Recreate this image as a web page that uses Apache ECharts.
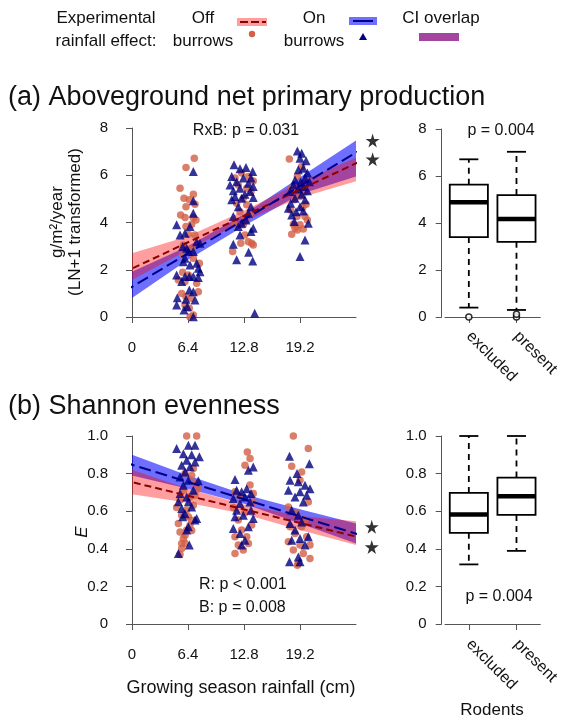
<!DOCTYPE html>
<html>
<head>
<meta charset="utf-8">
<script src="https://cdn.jsdelivr.net/npm/echarts@6/dist/echarts.min.js"></script>
<style>
  html, body { margin: 0; padding: 0; background: #fff; }
  #main { width: 562px; height: 727px; }
</style>
</head>
<body>
<div id="main"></div>
<script>
// rainfall ticks (cm) and rodent categories
const rainTicks = [0, 6.4, 12.8, 19.2]
const rodentCats = ['excluded', 'present']

// (a) ANPP points, off / on burrows  [rainfall, value]
const offA = [[7.12,6.72],[6.17,6.33],[5.49,5.45],[7.01,5.20],[5.94,5.03],[6.55,4.96],[6.17,4.67],[7.20,4.77],[5.56,4.32],[6.06,4.21],[7.01,4.21],[7.31,4.11],[6.82,3.93],[6.17,3.83],[6.44,3.50],[7.20,3.47],[5.87,3.05],[6.82,2.91],[5.79,2.63],[7.01,2.49],[7.70,2.27],[5.79,1.89],[6.44,1.78],[5.30,1.57],[6.06,1.50],[7.39,1.43],[7.58,1.07],[5.68,1.00],[6.17,0.86],[6.74,0.79],[6.06,0.51],[6.55,0.37],[7.01,0.08],[6.63,0.00],
  [11.50,2.77],[12.43,3.12],[13.30,3.19],[13.86,3.05],[13.68,3.12],[12.91,3.47],[11.77,3.90],[12.91,4.15],[13.49,4.39],[12.34,4.46],[13.11,4.75],[11.96,4.82],[12.72,5.03],[13.60,5.31],[12.15,5.59],[13.11,5.45],[11.77,5.88],[12.53,6.09],[13.30,5.95],[13.86,5.76],[12.72,3.90],
  [17.98,6.69],[19.39,6.37],[18.90,5.95],[18.25,5.45],[19.77,5.31],[19.20,5.10],[18.55,4.96],[19.89,4.77],[18.13,4.53],[19.51,4.63],[18.86,4.25],[19.77,4.25],[20.04,4.11],[18.44,3.93],[19.20,3.90],[18.90,3.68],[19.58,3.73],[18.25,3.50],[18.63,3.76]]
const onA = [[7.01,6.16],[7.01,4.92],[7.01,4.39],[5.10,3.90],[6.63,3.83],[6.06,3.55],[5.49,3.47],[7.39,3.19],[7.77,3.12],[5.79,2.98],[6.25,2.91],[6.44,2.77],[7.01,2.77],[6.06,2.49],[5.87,2.34],[7.39,2.27],[6.63,2.20],[7.58,2.06],[7.77,1.92],[5.10,1.78],[6.06,1.71],[6.55,1.71],[7.01,1.71],[7.58,1.67],[5.68,1.50],[6.55,1.14],[7.01,1.07],[5.18,0.82],[6.17,0.75],[7.20,0.72],[5.10,0.51],[6.32,0.44],[5.94,0.30],[7.01,0.01],
  [11.66,6.44],[13.03,6.33],[13.79,6.16],[12.34,6.27],[11.39,5.95],[12.72,5.88],[13.60,5.88],[11.96,5.73],[13.30,5.66],[11.20,5.59],[13.86,5.52],[12.34,5.45],[11.58,5.34],[13.49,5.31],[12.91,5.20],[13.86,5.06],[11.77,5.10],[11.39,4.96],[12.53,5.03],[12.15,4.67],[13.60,4.67],[13.30,4.39],[11.58,4.25],[13.03,4.11],[12.53,3.97],[12.15,3.83],[13.86,3.76],[12.34,3.47],[11.58,3.08],[13.60,3.62],[13.33,2.74],[11.96,2.42],[13.79,2.37],[14.02,0.16],
  [18.90,7.03],[19.39,6.93],[19.89,6.61],[19.20,6.72],[19.58,6.30],[19.01,6.23],[20.04,6.09],[19.77,5.88],[18.63,5.80],[19.28,5.71],[20.27,5.73],[18.44,5.59],[19.58,5.52],[19.01,5.42],[20.04,5.34],[18.06,5.31],[19.39,5.20],[18.63,5.03],[19.77,4.96],[18.13,4.82],[19.20,4.67],[17.87,4.60],[18.74,4.46],[18.25,4.32],[19.58,4.49],[20.15,3.97],[18.55,4.04],[19.77,3.26],[19.20,2.56]]

// (b) evenness points
const offB = [[6.25,1.00],[7.39,1.00],[7.01,0.827],[6.06,0.80],[6.82,0.79],[7.20,0.747],[7.58,0.72],[5.87,0.712],[6.63,0.677],[7.20,0.685],[5.49,0.659],[7.01,0.632],[5.10,0.62],[6.25,0.606],[5.68,0.578],[6.44,0.57],[6.82,0.552],[5.30,0.535],[6.63,0.525],[6.25,0.50],[6.82,0.498],[5.49,0.49],[6.06,0.472],[5.87,0.455],[5.68,0.428],[6.06,0.429],[5.68,0.401],[5.49,0.37],
  [13.18,0.915],[13.49,0.88],[12.91,0.845],[13.49,0.739],[11.77,0.703],[13.86,0.694],[12.34,0.677],[13.86,0.649],[11.58,0.62],[12.91,0.592],[12.15,0.553],[13.68,0.526],[12.53,0.50],[11.77,0.464],[13.11,0.464],[13.30,0.428],[12.15,0.42],[12.72,0.393],[11.77,0.375],
  [18.44,1.00],[20.15,0.933],[18.25,0.839],[19.39,0.809],[19.20,0.765],[17.87,0.623],[20.15,0.649],[18.82,0.592],[19.77,0.553],[18.06,0.517],[19.39,0.517],[18.63,0.481],[19.96,0.464],[17.87,0.437],[19.20,0.42],[20.34,0.42],[18.44,0.393],[19.58,0.375],[20.34,0.348],[18.90,0.313],[19.01,0.322]]
const onB = [[5.10,0.933],[6.44,0.951],[7.20,0.951],[5.87,0.906],[6.82,0.90],[7.70,0.89],[6.25,0.871],[7.20,0.862],[5.68,0.845],[6.63,0.836],[6.06,0.809],[5.49,0.782],[6.44,0.765],[7.58,0.762],[5.87,0.738],[7.01,0.712],[5.49,0.694],[6.25,0.676],[5.30,0.65],[6.44,0.65],[6.82,0.623],[5.68,0.614],[6.06,0.587],[5.79,0.57],[7.39,0.561],[7.20,0.553],[6.44,0.517],[6.25,0.50],[6.55,0.42],[5.30,0.375],
  [11.77,0.768],[13.86,0.835],[13.30,0.818],[13.11,0.72],[11.96,0.712],[12.53,0.703],[13.60,0.694],[11.58,0.667],[12.91,0.676],[12.34,0.641],[13.49,0.649],[11.96,0.605],[13.60,0.605],[11.77,0.57],[12.72,0.579],[13.86,0.561],[11.58,0.508],[13.30,0.517],[12.34,0.481],[12.91,0.446],[12.53,0.42],
  [18.00,0.892],[20.27,0.853],[18.86,0.80],[18.06,0.765],[19.01,0.756],[19.77,0.738],[20.34,0.72],[17.87,0.712],[19.20,0.703],[18.63,0.676],[19.96,0.685],[19.58,0.649],[18.25,0.605],[19.01,0.579],[18.06,0.534],[19.39,0.543],[18.63,0.50],[20.15,0.464],[19.20,0.455],[18.25,0.446],[19.77,0.42],[19.01,0.357],[18.00,0.331],[19.20,0.331]]

// fitted lines (ends) and confidence bands
const lineX = [-1.02, 26.6]
const offLineA = [1.87, 6.68]
const onLineA = [1.05, 7.18]
const offLineB = [0.766, 0.454]
const onLineB = [0.862, 0.466]

const bandX = [0, 6.4, 12.8, 19.2, 25.6]
const offLoA = [1.57, 2.85, 4.05, 5.05, 5.75]
const offHiA = [2.70, 3.42, 4.50, 5.70, 6.75]
const onLoA = [0.80, 2.42, 3.85, 5.20, 5.95]
const onHiA = [1.92, 3.00, 4.35, 5.92, 7.47]
const offLoB = [0.69, 0.645, 0.585, 0.50, 0.42]
const offHiB = [0.82, 0.72, 0.635, 0.575, 0.547]
const onLoB = [0.79, 0.72, 0.64, 0.535, 0.428]
const onHiB = [0.90, 0.79, 0.69, 0.61, 0.535]

// boxplots: min, Q1, median, Q3, max
const anppBox = [[0.40, 3.40, 4.88, 5.63, 6.71], [0.30, 3.20, 4.17, 5.19, 7.03]]
const anppOut = [[1, 0.00], [2, 0.00], [2, 0.12]]
const evenBox = [[0.317, 0.485, 0.582, 0.697, 1.00], [0.389, 0.580, 0.680, 0.779, 1.00]]

// significance stars
const starsA = [[27.5, 7.47], [27.5, 6.68]]
const starsB = [[27.4, 0.517], [27.4, 0.41]]

const FONT = '"Liberation Sans", Arial, sans-serif'
const RED = '#d35f45'
const NAVY = '#000080'
const RED_CI = 'rgba(255,0,0,0.38)'
const BLUE_CI = 'rgba(0,0,255,0.57)'
const STAR = 'path://M50,0 L61,35 L98,35 L68,57 L79,91 L50,70 L21,91 L32,57 L2,35 L39,35 Z'

let chart = echarts.init(document.getElementById('main'))

function axisX(grid, offset, min, max, ticks, fmt, rotate) {
  return {
    type: 'value', gridIndex: grid, min: min, max: max, offset: offset,
    axisLine: { show: true, lineStyle: { color: '#555', width: 1 } },
    axisTick: { show: true, length: 6, customValues: ticks, lineStyle: { color: '#555' } },
    axisLabel: {
      customValues: ticks, formatter: fmt, color: '#111', fontSize: rotate ? 16 : 15, fontFamily: FONT,
      margin: rotate ? 10 : 15, rotate: rotate || 0
    },
    splitLine: { show: false }
  }
}
function axisY(grid, offset, max, step, fmt) {
  return {
    type: 'value', gridIndex: grid, min: 0, max: max, interval: step, offset: offset,
    axisLine: { show: true, lineStyle: { color: '#555', width: 1 } },
    axisTick: { show: true, length: 6, lineStyle: { color: '#555' } },
    axisLabel: { color: '#111', fontSize: 15, fontFamily: FONT, margin: 15, formatter: fmt },
    splitLine: { show: false }
  }
}
const fmtE = v => (v === 0 ? '0' : v.toFixed(1))

// band polygon through the axis scales
function band(lo, hi, color) {
  return function (params, api) {
    let pts = []
    for (let i = 0; i < bandX.length; i++) pts.push(api.coord([bandX[i], hi[i]]))
    for (let i = bandX.length - 1; i >= 0; i--) pts.push(api.coord([bandX[i], lo[i]]))
    return { type: 'polygon', shape: { points: pts }, style: { fill: color } }
  }
}
function bandSeries(grid, lo, hi, color) {
  return { type: 'custom', xAxisIndex: grid, yAxisIndex: grid, data: [[0, 0]], clip: false, silent: true, renderItem: band(lo, hi, color) }
}
function fitLine(grid, ys, color, dash) {
  return {
    type: 'line', xAxisIndex: grid, yAxisIndex: grid, clip: false, silent: true, symbol: 'none',
    data: [[lineX[0], ys[0]], [lineX[1], ys[1]]],
    lineStyle: { color: color, width: 2, type: dash }
  }
}
function pts(grid, data, symbol, color, size) {
  return { type: 'scatter', xAxisIndex: grid, yAxisIndex: grid, clip: false, silent: true, symbol: symbol, symbolSize: size, itemStyle: { color: color }, data: data }
}

function boxItem(params, api) {
  const x = api.value(0)
  const p = [1, 2, 3, 4, 5].map(i => api.coord([x, api.value(i)]))
  const hw = api.size([0.4, 0])[0]
  const cw = api.size([0.2, 0])[0]
  const cx = p[0][0]
  const thin = { stroke: '#000', lineWidth: 1.8 }
  const dash = { stroke: '#000', lineWidth: 1.8, lineDash: [6, 5] }
  return {
    type: 'group', children: [
      { type: 'line', shape: { x1: cx, y1: p[3][1], x2: cx, y2: p[4][1] }, style: dash },
      { type: 'line', shape: { x1: cx, y1: p[1][1], x2: cx, y2: p[0][1] }, style: dash },
      { type: 'line', shape: { x1: cx - cw, y1: p[4][1], x2: cx + cw, y2: p[4][1] }, style: thin },
      { type: 'line', shape: { x1: cx - cw, y1: p[0][1], x2: cx + cw, y2: p[0][1] }, style: thin },
      { type: 'rect', shape: { x: cx - hw, y: p[3][1], width: hw * 2, height: p[1][1] - p[3][1] }, style: { fill: '#fff', stroke: '#000', lineWidth: 1.8 } },
      { type: 'line', shape: { x1: cx - hw, y1: p[2][1], x2: cx + hw, y2: p[2][1] }, style: { stroke: '#000', lineWidth: 4.5 } }
    ]
  }
}
function boxSeries(grid, stats) {
  return {
    type: 'custom', xAxisIndex: grid, yAxisIndex: grid, clip: false, silent: true, renderItem: boxItem,
    data: stats.map((s, i) => [i + 1].concat(s))
  }
}

function txt(x, y, s, size, align, extra) {
  return Object.assign({
    type: 'text', x: x, y: y, silent: true,
    style: { text: s, font: size + 'px ' + FONT, fill: '#111', textAlign: align || 'center', textVerticalAlign: 'middle' }
  }, extra || {})
}

let option = {
  animation: false,
  backgroundColor: '#fff',
  grid: [
    { left: 132, top: 128, width: 224, height: 189 },
    { left: 132, top: 436, width: 224, height: 188 },
    { left: 445, top: 129, width: 107, height: 188 },
    { left: 445, top: 436, width: 107, height: 188 }
  ],
  xAxis: [
    axisX(0, 8, 0, 25.6, rainTicks, v => String(v)),
    axisX(1, 8, 0, 25.6, rainTicks, v => String(v)),
    axisX(2, 7, 0.5, 2.5, [1, 2], v => rodentCats[Math.round(v) - 1], -45),
    axisX(3, 8, 0.5, 2.5, [1, 2], v => rodentCats[Math.round(v) - 1], -45)
  ],
  yAxis: [
    axisY(0, 9, 8, 2),
    axisY(1, 9, 1, 0.2, fmtE),
    axisY(2, 3.3, 8, 2),
    axisY(3, 3.3, 1, 0.2, fmtE)
  ],
  series: [
    bandSeries(0, onLoA, onHiA, BLUE_CI),
    bandSeries(0, offLoA, offHiA, RED_CI),
    pts(0, offA, 'circle', RED, 7.5),
    pts(0, onA, 'triangle', NAVY, 9),
    fitLine(0, offLineA, '#8b0000', [7, 4]),
    fitLine(0, onLineA, '#00008b', [12, 5]),
    pts(0, starsA, STAR, '#000', 14),

    bandSeries(1, onLoB, onHiB, BLUE_CI),
    bandSeries(1, offLoB, offHiB, RED_CI),
    pts(1, offB, 'circle', RED, 7.5),
    pts(1, onB, 'triangle', NAVY, 9),
    fitLine(1, offLineB, '#8b0000', [7, 4]),
    fitLine(1, onLineB, '#00008b', [12, 5]),
    pts(1, starsB, STAR, '#000', 14),

    boxSeries(2, anppBox),
    {
      type: 'scatter', xAxisIndex: 2, yAxisIndex: 2, clip: false, silent: true, symbol: 'circle', symbolSize: 6,
      itemStyle: { color: '#fff', borderColor: '#000', borderWidth: 1.5 }, data: anppOut
    },
    boxSeries(3, evenBox)
  ],
  graphic: [
    // legend
    txt(106, 18, 'Experimental', 17),
    txt(106, 41, 'rainfall effect:', 17),
    txt(203, 18, 'Off', 17),
    txt(203, 41, 'burrows', 17),
    txt(314, 18, 'On', 17),
    txt(314, 41, 'burrows', 17),
    txt(441, 18, 'CI overlap', 17),
    { type: 'rect', shape: { x: 237, y: 18, width: 30, height: 8 }, style: { fill: RED_CI } },
    { type: 'line', shape: { x1: 240, y1: 22, x2: 266, y2: 22 }, style: { stroke: '#8b0000', lineWidth: 2, lineDash: [8, 3] } },
    { type: 'circle', shape: { cx: 252, cy: 34, r: 3.2 }, style: { fill: RED } },
    { type: 'rect', shape: { x: 349, y: 17, width: 28, height: 8 }, style: { fill: BLUE_CI } },
    { type: 'line', shape: { x1: 353, y1: 21, x2: 373, y2: 21 }, style: { stroke: '#00008b', lineWidth: 2 } },
    { type: 'polygon', shape: { points: [[363, 33], [367, 40], [359, 40]] }, style: { fill: NAVY } },
    { type: 'rect', shape: { x: 419, y: 33, width: 40, height: 8 }, style: { fill: '#a4459f' } },

    // panel titles
    txt(8, 98, '(a) Aboveground net primary production', 27, 'left'),
    txt(8, 407, '(b) Shannon evenness', 27, 'left'),

    // axis titles
    txt(57, 222, 'g/m\u00b2/year', 17, 'center', { rotation: Math.PI / 2 }),
    txt(75, 222, '(LN+1 transformed)', 17, 'center', { rotation: Math.PI / 2 }),
    { type: 'text', x: 82, y: 532, rotation: Math.PI / 2, silent: true,
      style: { text: 'E', font: 'italic 17px ' + FONT, fill: '#111', textAlign: 'center', textVerticalAlign: 'middle' } },
    txt(241, 688, 'Growing season rainfall (cm)', 18),
    txt(492, 710, 'Rodents', 17),

    // test results
    txt(246, 131, 'RxB: p = 0.031', 16),
    txt(501, 131, 'p = 0.004', 16),
    txt(199, 585, 'R: p < 0.001', 16, 'left'),
    txt(199, 608, 'B: p = 0.008', 16, 'left'),
    txt(499, 597, 'p = 0.004', 16)
  ]
}

chart.setOption(option)
</script>
</body>
</html>
